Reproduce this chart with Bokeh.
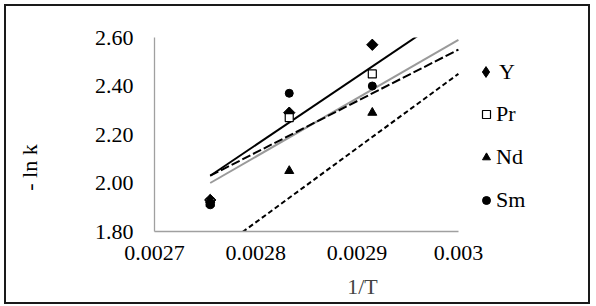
import math
from bokeh.plotting import figure
from bokeh.models import (Range1d, FixedTicker, CustomJSTickFormatter, Legend, LegendItem, Label)
from bokeh.embed import file_html
from bokeh.resources import INLINE

# ---- data ----
inv_T = [0.002755, 0.002833, 0.002915]
Y_vals = [1.93, 2.29, 2.57]
Pr_vals = [1.92, 2.27, 2.45]
Nd_vals = [1.93, 2.05, 2.29]
Sm_vals = [1.91, 2.37, 2.40]

trend_x = [0.002755, 0.003]
Y_trend = [2.03, 2.72]
Pr_trend = [2.00, 2.59]
Nd_trend = [1.70, 2.45]
Sm_trend = [2.03, 2.55]

x_ticks = [0.0027, 0.0028, 0.0029, 0.003]
y_ticks = [1.8, 2.0, 2.2, 2.4, 2.6]
series_names = ["Y", "Pr", "Nd", "Sm"]
x_title = "1/T"
y_title = "- ln k"

FONT = "Liberation Serif"
FS = "22px"

# layout (pixels inside the bordered canvas)
W, H = 586, 300          # includes 2px border on each side
FRAME_L, FRAME_R_AXIS, FRAME_R = 148, 449, 560
# the frame extends right of the axis end so the legend sits inside it
x_end = x_ticks[-1] + (FRAME_R - FRAME_R_AXIS) * (x_ticks[-1] - x_ticks[0]) / (FRAME_R_AXIS - FRAME_L)

p = figure(width=W, height=H,
           x_range=Range1d(x_ticks[0], x_end), y_range=Range1d(y_ticks[0], y_ticks[-1]),
           output_backend="svg", toolbar_location=None,
           min_border_left=FRAME_L, min_border_right=(W - 4) - FRAME_R,
           min_border_top=31, min_border_bottom=75)
p.styles = {"margin-left": "4px", "margin-top": "4px", "border": "2px solid #1a1a1a"}
p.outline_line_color = None
p.xgrid.visible = False
p.ygrid.visible = False

for ax in (p.xaxis, p.yaxis):
    ax.axis_line_color = "#a0a0a0"
    ax.axis_line_width = 1.3
    ax.major_tick_line_color = None
    ax.minor_tick_line_color = None
    ax.major_tick_out = 0
    ax.major_tick_in = 0
    ax.major_label_text_font = FONT
    ax.major_label_text_font_size = FS
    ax.major_label_text_color = "black"

p.xaxis.bounds = (x_ticks[0], x_ticks[-1])
p.xaxis.ticker = FixedTicker(ticks=x_ticks)
p.yaxis.ticker = FixedTicker(ticks=y_ticks)
p.xaxis.formatter = CustomJSTickFormatter(code="return String(Number(tick.toFixed(4)));")
p.yaxis.formatter = CustomJSTickFormatter(code="return tick.toFixed(2);")
p.yaxis.major_label_standoff = 21
p.xaxis.major_label_standoff = 14

p.xaxis.axis_label = x_title
p.xaxis.axis_label_text_font = FONT
p.xaxis.axis_label_text_font_size = FS
p.xaxis.axis_label_text_font_style = "normal"
p.xaxis.axis_label_standoff = 11

# trend lines
p.line(trend_x, Y_trend, line_color="black", line_width=2)
p.line(trend_x, Pr_trend, line_color="#9a9a9a", line_width=2)
p.line(trend_x, Nd_trend, line_color="black", line_width=2, line_dash="5 3")
p.line(trend_x, Sm_trend, line_color="black", line_width=2, line_dash="9 3")

# markers (Y diamond drawn as rotated square; a plain diamond underneath serves as legend key)
rY_key = p.scatter(inv_T, Y_vals, marker="diamond", size=10,
                   fill_color="black", line_color="black")
rY = p.scatter(inv_T, Y_vals, marker="square", size=8, angle=math.pi / 4,
               fill_color="black", line_color="black")
rPr = p.scatter(inv_T, Pr_vals, marker="square", size=8,
                fill_color="white", line_color="black", line_width=1.2)
rNd = p.scatter(inv_T, Nd_vals, marker="triangle", size=9,
                fill_color="black", line_color="black")
rSm = p.scatter(inv_T, Sm_vals, marker="circle", size=8,
                fill_color="black", line_color="black")

common = dict(label_text_font=FONT, label_text_font_size=FS, label_text_color="black",
              padding=0, margin=0,
              border_line_color=None, background_fill_alpha=0)
leg1 = Legend(items=[LegendItem(label=series_names[0], renderers=[rY_key])],
              location=(318, 146), glyph_width=27, glyph_height=27, spacing=0,
              label_standoff=-4, **common)
leg2 = Legend(items=[LegendItem(label=n, renderers=[r]) for n, r in
                     zip(series_names[1:], [rPr, rNd, rSm])],
              location=(322, 18), glyph_width=20, glyph_height=20, spacing=17,
              label_standoff=-1, **common)
p.add_layout(leg1)
p.add_layout(leg2)

ylab = Label(x=-37, y=64, x_units="screen", y_units="screen", text=y_title,
             angle=math.pi / 2, text_align="center", text_baseline="middle",
             text_font=FONT, text_font_size=FS, text_color="black")
p.add_layout(ylab, "left")

open("out.html", "w").write(file_html(p, INLINE))
